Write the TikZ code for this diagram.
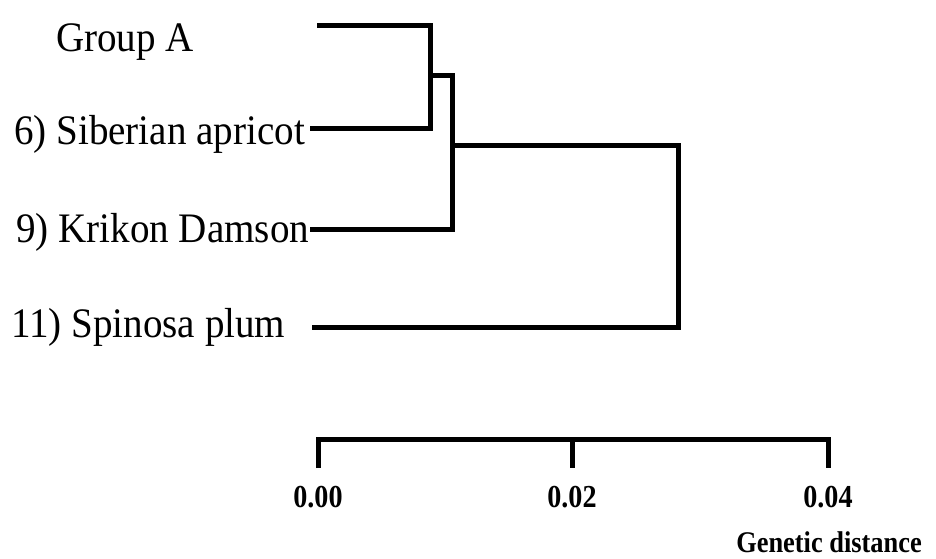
\documentclass[tikz,border=0pt]{standalone}
\usepackage{fontspec}
\setmainfont{Liberation Serif}
% slightly condensed faces for the labels
\newfontfamily\taxonfont[FakeStretch=0.93]{Liberation Serif}
\newfontfamily\scalefont[FakeStretch=0.88]{Liberation Serif}
\begin{document}
\begin{tikzpicture}[x=1pt,y=-1pt,
  branch/.style={line width=5pt,line cap=butt,line join=miter},
  taxon/.style={font=\taxonfont\fontsize{42}{42}\selectfont,inner sep=0pt,anchor=base west},
  ticklabel/.style={font=\scalefont\fontsize{32}{32}\selectfont\bfseries,inner sep=0pt,anchor=base},
  axislabel/.style={font=\scalefont\fontsize{30}{30}\selectfont\bfseries,inner sep=0pt,anchor=base}]
\useasboundingbox (0,0) rectangle (936,558);

% taxon labels
\node[taxon] (ga) at (56,51) {Group A};
\node[taxon] (sa) at (14,144) {6) Siberian apricot};
\node[taxon] (kd) at (16,242) {9) Krikon Damson};
\node[taxon] (sp) at (11,337) {11) Spinosa plum};

% leaf tips
\coordinate (tga) at (317,25);
\coordinate (tsa) at (310,128);
\coordinate (tkd) at (310,229);
\coordinate (tsp) at (312,327);

% internal nodes
\coordinate (n1) at (430,75);
\coordinate (n2) at (452,145);
\coordinate (n3) at (678,236);

% tree
\draw[branch] (tga) -| (n1) |- (tsa);
\draw[branch] (n1) -| (n2) |- (tkd);
\draw[branch] (n2) -| (n3) |- (tsp);

% scale bar
\coordinate (s0) at (318,439);
\coordinate (s1) at (572,439);
\coordinate (s2) at (828,439);
\coordinate (e0) at (318,468);
\coordinate (e1) at (572,468);
\coordinate (e2) at (828,468);
\draw[branch] (e0) -- (s0) -- (s2) -- (e2);
\draw[branch] (s1) -- (e1);

\node[ticklabel] (l0) at (318,507) {0.00};
\node[ticklabel] (l1) at (572,507) {0.02};
\node[ticklabel] (l2) at (828,507) {0.04};
\node[axislabel] (gd) at (829,552) {Genetic distance};
\end{tikzpicture}
\end{document}
